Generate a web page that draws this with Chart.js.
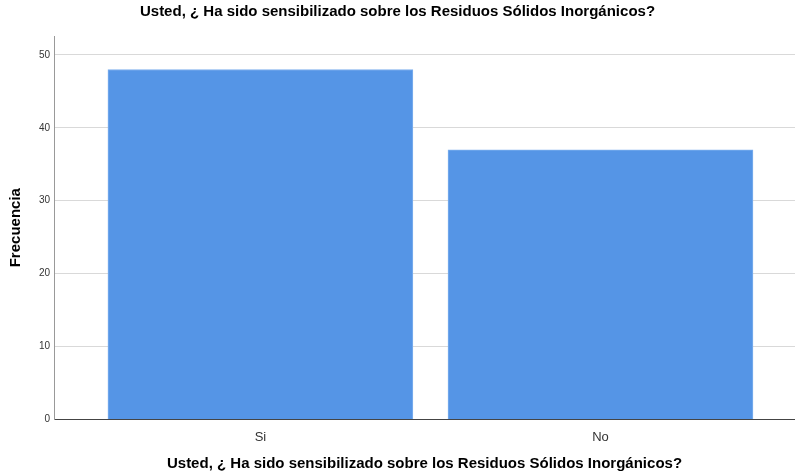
<!DOCTYPE html>
<html>
<head>
<meta charset="utf-8">
<script src="https://cdn.jsdelivr.net/npm/chart.js@4/dist/chart.umd.min.js"></script>
<style>
  html, body { margin: 0; padding: 0; background: #fff; }
  #wrap { width: 795px; height: 475px; position: relative; }
</style>
</head>
<body>
<div id="wrap"><canvas id="barChart"></canvas></div>
<script>
// --- DATA ---
const categories = ['Si', 'No'];
const frecuencias = [48, 37];
const yTicks = [0, 10, 20, 30, 40, 50];
const chartTitle = 'Usted, ¿ Ha sido sensibilizado sobre los Residuos Sólidos Inorgánicos?';

const FONT = "'Liberation Sans', Arial, sans-serif";
const barColor = '#5595e6';

// bars sit at x = 1, 2 on a linear axis so the side gaps match the original
const points = categories.map((c, i) => ({ x: i + 1, y: frecuencias[i] }));

const ctx = document.getElementById('barChart').getContext('2d');
new Chart(ctx, {
    type: 'bar',
    data: {
        datasets: [{
            label: 'Frecuencia',
            data: points,
            backgroundColor: barColor,
            borderColor: '#7fb0ee',
            borderWidth: 1,
            barThickness: 305
        }]
    },
    options: {
        responsive: true,
        maintainAspectRatio: false,
        animation: false,
        layout: { padding: { top: 0, right: 0, bottom: 2, left: 0 } },
        plugins: {
            legend: { display: false },
            tooltip: { enabled: false },
            title: {
                display: true,
                text: chartTitle,
                color: '#000',
                font: { family: FONT, size: 15, weight: 'bold' },
                padding: { top: 3, bottom: 15 }
            }
        },
        scales: {
            x: {
                type: 'linear',
                offset: false,
                min: 0.393,
                max: 2.572,
                afterBuildTicks: axis => { axis.ticks = categories.map((c, i) => ({ value: i + 1 })); },
                ticks: {
                    color: '#333',
                    font: { family: FONT, size: 13 },
                    padding: 10,
                    maxRotation: 0,
                    callback: v => categories[v - 1] || ''
                },
                grid: { display: false, drawTicks: false, offset: false },
                border: { display: true, color: '#444', width: 1 },
                title: {
                    display: true,
                    text: chartTitle,
                    color: '#000',
                    font: { family: FONT, size: 15, weight: 'bold' },
                    padding: { top: 0, bottom: 0 }
                }
            },
            y: {
                min: 0,
                max: 52.6,
                afterBuildTicks: axis => { axis.ticks = yTicks.map(v => ({ value: v })); },
                afterFit: axis => { axis.width = 54; },
                ticks: {
                    color: '#333',
                    font: { family: FONT, size: 10 },
                    padding: 4
                },
                grid: { color: '#d9d9d9', lineWidth: 1, drawTicks: false },
                border: { display: true, color: '#999', width: 1 },
                title: {
                    display: true,
                    text: 'Frecuencia',
                    color: '#000',
                    font: { family: FONT, size: 15, weight: 'bold' },
                    padding: { top: 7, bottom: 10 }
                }
            }
        }
    }
});
</script>
</body>
</html>
